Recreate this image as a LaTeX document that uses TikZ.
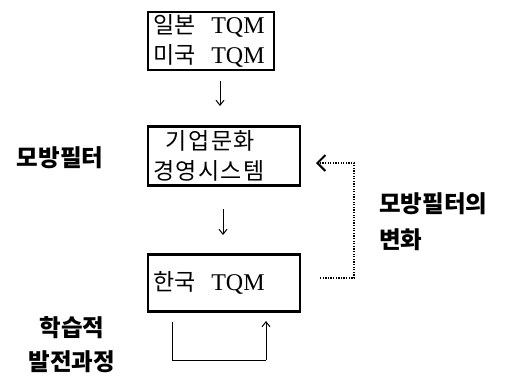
\documentclass[tikz,border=0pt]{standalone}
\usepackage{fontspec}
\setmainfont{Liberation Serif}
\newfontfamily\kr{Noto Sans CJK KR}
\newfontfamily\krsp[LetterSpace=6]{Noto Sans CJK KR}
\usetikzlibrary{arrows.meta}
\begin{document}
\begin{tikzpicture}[x=1pt,y=-1pt,
  box/.style={draw,line width=2.4pt,rectangle,align=left,inner xsep=5pt,inner ysep=0pt,
    font=\fontsize{23}{30}\selectfont},
  tqm/.style={},
  lbl/.style={font=\kr\bfseries\fontsize{23.5}{26}\selectfont,inner sep=0pt},
  thinarrow/.style={line width=1pt,-{Straight Barb[length=5pt,width=8pt]}},
  feedback/.style={line width=1.3pt,dash pattern=on 1.3pt off 1.3pt,
    -{Straight Barb[length=8pt,width=16pt,line width=2pt]}},
  loopline/.style={line width=1pt}]
\useasboundingbox (0,0) rectangle (507,378);

\node[box,text width=116pt,minimum height=58pt] (b1) at (211,41)
  {{\kr 일본}\hspace{16pt}{\fontsize{24}{30}\selectfont TQM}\\{\kr 미국}\hspace{16pt}{\fontsize{24}{30}\selectfont TQM}};
\node[box,text width=142pt,minimum height=59pt] (b2) at (224,156)
  {\hspace{13pt}{\krsp 기업문화}\\{\krsp 경영시스템}};
\node[box,text width=142pt,minimum height=57pt] (b3) at (224,283)
  {{\kr 한국}\hspace{16pt}{\fontsize{24}{30}\selectfont TQM}};

\coordinate (a1s) at (220,81);
\coordinate (a1e) at (220,106);
\coordinate (a2s) at (223,209);
\coordinate (a2e) at (223,235);
\draw[thinarrow] (a1s) -- (a1e);
\draw[thinarrow] (a2s) -- (a2e);

\coordinate (l1) at (172,322);
\coordinate (l2) at (172,360);
\coordinate (l3) at (266,360);
\coordinate (l4) at (266,321);
\draw[loopline] (l1) -- (l2) -- (l3);
\draw[thinarrow] (l3) -- (l4);

\coordinate (f1) at (320,278);
\coordinate (f2) at (354,278);
\coordinate (f3) at (354,163);
\coordinate (f4) at (316,163);
\draw[feedback] (f1) -- (f2) -- (f3) -- (f4);

\node[lbl] (m1) at (60,158) {모방필터};
\node[lbl,anchor=west] (m2) at (379,204) {모방필터의};
\node[lbl,anchor=west] (m3) at (379,240) {변화};
\node[lbl] (h1) at (72,328) {학습적};
\node[lbl] (h2) at (72,362) {발전과정};
\end{tikzpicture}
\end{document}
